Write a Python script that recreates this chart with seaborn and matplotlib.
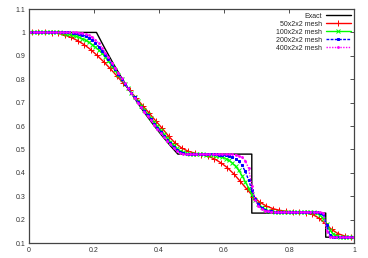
import numpy as np
import pandas as pd
import seaborn as sns
import matplotlib.pyplot as plt

# exact solution (vertices)
exact_x = [0.0, 0.208, 0.233, 0.258, 0.283, 0.308, 0.333, 0.358, 0.383, 0.408,
           0.433, 0.458, 0.685, 0.685, 0.912, 0.912, 1.0]
exact_rho = [1.0, 1.0, 0.934, 0.871, 0.811, 0.755, 0.702, 0.652, 0.605, 0.561,
             0.519, 0.48, 0.48, 0.228, 0.228, 0.125, 0.125]

# 50 cells
rho_50 = [1.0, 1.0, 1.0, 0.999, 0.996, 0.989, 0.979, 0.965, 0.948, 0.927,
          0.902, 0.875, 0.846, 0.815, 0.784, 0.752, 0.720, 0.687, 0.655, 0.622,
          0.590, 0.556, 0.527, 0.506, 0.492, 0.484, 0.478, 0.471, 0.460, 0.443,
          0.422, 0.395, 0.363, 0.330, 0.298, 0.274, 0.258, 0.247, 0.240, 0.236,
          0.234, 0.232, 0.229, 0.223, 0.208, 0.184, 0.158, 0.140, 0.130, 0.126]

# 100 cells
rho_100 = [1.0] * 10 + [
    0.997, 0.995, 0.992, 0.988, 0.984, 0.979, 0.973, 0.966, 0.958, 0.948,
    0.937, 0.925, 0.911, 0.895, 0.877, 0.858, 0.838, 0.818, 0.799, 0.780,
    0.761, 0.742, 0.723, 0.705, 0.687, 0.669, 0.651, 0.634, 0.616, 0.599,
    0.582, 0.565, 0.549, 0.533, 0.518, 0.504, 0.493, 0.487, 0.483, 0.481,
    0.480, 0.480, 0.479, 0.479, 0.478, 0.477, 0.476, 0.474, 0.471, 0.467,
    0.461, 0.453, 0.442, 0.428, 0.410, 0.388, 0.362, 0.335, 0.308, 0.284,
    0.266, 0.253, 0.245, 0.239, 0.236, 0.234, 0.233, 0.232] + [0.232] * 9 + [
    0.231, 0.227, 0.219, 0.204, 0.180, 0.155, 0.139, 0.131, 0.127, 0.126,
    0.125, 0.125, 0.125]

# 200 cells (read every other cell)
rho_200 = [1.0] * 13 + [
    0.999, 0.998, 0.995, 0.990, 0.984, 0.976, 0.966, 0.954, 0.939, 0.922,
    0.905, 0.886, 0.866, 0.845, 0.823, 0.802, 0.781, 0.761, 0.741, 0.722,
    0.702, 0.683, 0.664, 0.646, 0.628, 0.610, 0.593, 0.576, 0.559, 0.542,
    0.526, 0.511, 0.497, 0.488, 0.483, 0.481] + [0.480] * 8 + [
    0.479, 0.478, 0.477, 0.475, 0.472, 0.467, 0.460, 0.449, 0.432, 0.406,
    0.370, 0.327, 0.290, 0.265, 0.250, 0.242, 0.237, 0.235, 0.233] + [0.232] * 13 + [
    0.230, 0.222, 0.175, 0.133, 0.127] + [0.125] * 6

# 400 cells (read every fourth cell)
rho_400 = [1.0] * 15 + [
    0.999, 0.997, 0.993, 0.988, 0.980, 0.969, 0.954, 0.935, 0.914, 0.893,
    0.871, 0.849, 0.826, 0.804, 0.782, 0.761, 0.741, 0.720, 0.700, 0.680,
    0.661, 0.642, 0.624, 0.606, 0.588, 0.571, 0.554, 0.538, 0.522, 0.506,
    0.492, 0.484, 0.481] + [0.480] * 14 + [
    0.479, 0.477, 0.473, 0.466, 0.452, 0.420, 0.345, 0.285, 0.258, 0.245,
    0.239, 0.236, 0.234] + [0.232] * 15 + [0.229, 0.150, 0.127] + [0.125] * 7

labels = ["Exact", "50x2x2 mesh", "100x2x2 mesh", "200x2x2 mesh", "400x2x2 mesh"]
x_ticks = [0, 0.2, 0.4, 0.6, 0.8, 1]
x_labels = ["0", "0.2", "0.4", "0.6", "0.8", "1"]
y_ticks = [0.1, 0.2, 0.3, 0.4, 0.5, 0.6, 0.7, 0.8, 0.9, 1.0, 1.1]
y_labels = ["0.1", "0.2", "0.3", "0.4", "0.5", "0.6", "0.7", "0.8", "0.9", "1", "1.1"]


def centres(vals):
    n = len(vals)
    return (np.arange(n) + 0.5) / n


sns.set_style("white")
plt.rcParams["font.family"] = ["Liberation Sans", "DejaVu Sans"]

fig = plt.figure(figsize=(3.68, 2.58), dpi=100)
ax = fig.add_axes([0.078, 0.058, 0.885, 0.907])

sns.lineplot(x=exact_x, y=exact_rho, sort=False, estimator=None, color="black",
             linewidth=1.0, label=labels[0], ax=ax)

styles = [
    (rho_50, "#ff0000", "+", 4, "-"),
    (rho_100, "#00ff00", "x", 2.5, "-"),
    (rho_200, "#0000ff", "s", 1.5, (0, (2, 1))),
    (rho_400, "#ff00ff", ".", 2.6, (0, (1, 1))),
]
for (vals, col, mk, ms, ls), lab in zip(styles, labels[1:]):
    df = pd.DataFrame({"x": centres(vals), "rho": vals})
    sns.lineplot(data=df, x="x", y="rho", sort=False, estimator=None, color=col,
                 linewidth=1.0, linestyle=ls, marker=mk, markersize=ms,
                 markeredgewidth=0.7, markeredgecolor=col, label=lab, ax=ax)

ax.set_xlim(0, 1)
ax.set_ylim(0.1, 1.1)
ax.set_xticks(x_ticks)
ax.set_xticklabels(x_labels)
ax.set_yticks(y_ticks)
ax.set_yticklabels(y_labels)
ax.set_xlabel("")
ax.set_ylabel("")
ax.tick_params(direction="in", length=3, width=0.6, labelsize=5, pad=2.5,
               top=True, right=True, colors="#333333")
for s in ax.spines.values():
    s.set_color("#444444")
    s.set_linewidth(0.9)

ax.legend(loc="upper right", frameon=False, markerfirst=False, fontsize=5,
          handlelength=3.6, handletextpad=0.5, labelspacing=0.15,
          borderaxespad=0.3, borderpad=0.2)

fig.savefig("out.png", dpi=100)
